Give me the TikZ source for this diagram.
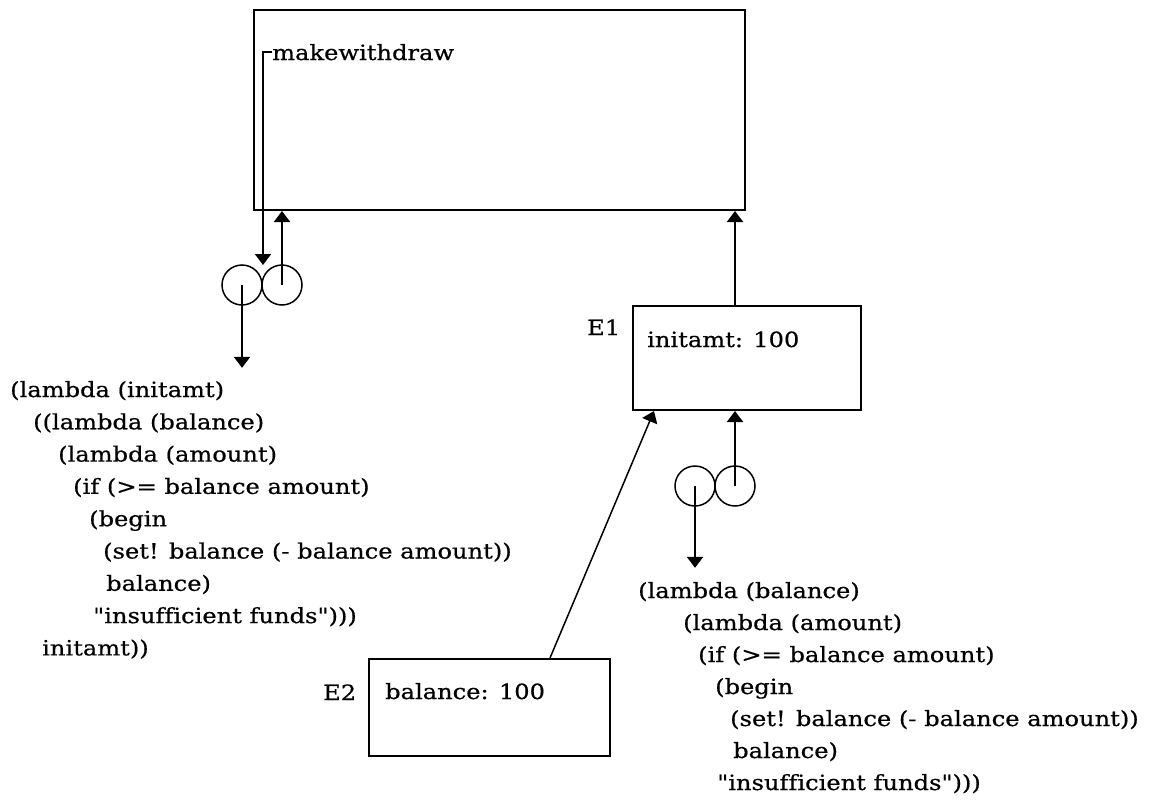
\documentclass[tikz,border=0pt]{standalone}
\usepackage{fontspec}
\setmainfont{DejaVu Serif}[FakeStretch=1.15,FakeBold=0.6,Ligatures={TeXOff,CommonOff}]
\usetikzlibrary{arrows.meta,calc}

\begin{document}
\begin{tikzpicture}[x=1pt,y=-1pt,
  font=\fontsize{21}{32}\selectfont,
  env/.style={draw,line width=2pt,inner sep=0pt},
  txt/.style={anchor=base west,inner sep=0pt},
  cell/.style={draw,circle,line width=1.5pt,minimum size=40pt,inner sep=0pt},
  ptr/.style={-{Triangle[width=16pt,length=11pt]},line width=2pt},
  ptrthin/.style={-{Triangle[width=16pt,length=11pt]},line width=1.5pt},
]
\useasboundingbox (0,0) rectangle (1151,800);

% global environment
\node[env,minimum width=491pt,minimum height=200pt] (global) at (499.5,110) {};
\node[txt] (mwd) at (272,60) {makewithdraw};

% procedure object for makewithdraw
\node[cell] (p1a) at (242,285) {};
\node[cell] (p1b) at (282,285) {};
\coordinate (p1in) at (263,265);
\draw[ptr] (mwd.west) -| (p1in);
\draw[ptr] (p1b.center) -- (p1b.center |- global.south);

% its code
\foreach \dx/\cl [count=\i from 0] in {10/{(lambda (initamt)},33/{((lambda (balance)},
    58/{(lambda (amount)},73/{(if (>= balance amount)},89/{(begin},
    103/{(set! balance (- balance amount))},106/{balance)},
    93/{"insufficient funds")))},42/{initamt))}}
  \node[txt] (la\i) at (\dx,{397+32.3*\i}) {\cl};
\draw[ptr] (p1a.center) -- ([yshift=13pt]p1a.center |- la0.north);

% frame E1
\node[env,minimum width=228pt,minimum height=104pt] (E1) at (747,358) {};
\node[txt] (E1lbl) at (587,335) {E1};
\node[txt] (E1var) at (647,347) {initamt: 100};
\draw[ptr] (735,0 |- E1.north) -- (735,0 |- global.south);

% procedure object made in E1
\node[cell] (p2a) at (695,486) {};
\node[cell] (p2b) at (735,486) {};
\draw[ptr] (p2b.center) -- (p2b.center |- E1.south);

\foreach \dx/\cl [count=\i from 0] in {638/{(lambda (balance)},683/{(lambda (amount)},
    698/{(if (>= balance amount)},715/{(begin},
    730/{(set! balance (- balance amount))},733/{balance)},
    717/{"insufficient funds")))}}
  \node[txt] (lb\i) at (\dx,{598+32*\i}) {\cl};
\draw[ptr] (p2a.center) -- ([yshift=14pt]p2a.center |- lb0.north);

% frame E2
\node[env,minimum width=241pt,minimum height=97pt] (E2) at (489.5,707.5) {};
\node[txt] (E2lbl) at (323,700) {E2};
\node[txt] (E2var) at (385,699) {balance: 100};
\draw[ptrthin] ($(E2.north west)+(182,0)$) -- ($(E1.south west)+(22,0)$);
\end{tikzpicture}
\end{document}
